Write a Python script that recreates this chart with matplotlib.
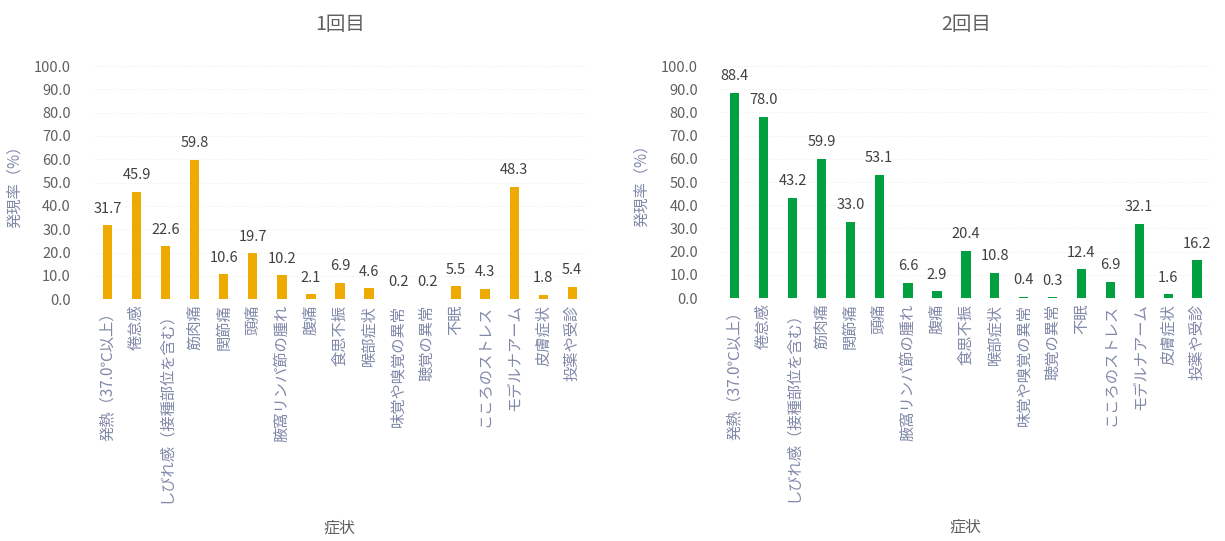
import matplotlib.pyplot as plt

plt.rcParams['font.family'] = ['Noto Sans CJK JP', 'DejaVu Sans']

# Data
symptoms = ['発熱（37.0℃以上）', '倦怠感', 'しびれ感（接種部位を含む）', '筋肉痛', '関節痛',
            '頭痛', '腋窩リンパ節の腫れ', '腹痛', '食思不振', '喉部症状', '味覚や嗅覚の異常',
            '聴覚の異常', '不眠', 'こころのストレス', 'モデルナアーム', '皮膚症状', '投薬や受診']
dose1 = [31.7, 45.9, 22.6, 59.8, 10.6, 19.7, 10.2, 2.1, 6.9, 4.6, 0.2, 0.2, 5.5, 4.3, 48.3, 1.8, 5.4]
dose2 = [88.4, 78.0, 43.2, 59.9, 33.0, 53.1, 6.6, 2.9, 20.4, 10.8, 0.4, 0.3, 12.4, 6.9, 32.1, 1.6, 16.2]
titles = ['1回目', '2回目']
yticks = [0, 10, 20, 30, 40, 50, 60, 70, 80, 90, 100]

fig = plt.figure(figsize=(12.25, 5.41), dpi=100)
ax1 = fig.add_axes([0.076, 0.447, 0.403, 0.431])
ax2 = fig.add_axes([0.588, 0.449, 0.401, 0.429])

for ax, vals, title, color in [(ax1, dose1, titles[0], '#EDAA00'),
                               (ax2, dose2, titles[1], '#00A040')]:
    x = range(len(symptoms))
    bars = ax.bar(x, vals, width=0.32, color=color, zorder=3)
    ax.bar_label(bars, fmt='%.1f', padding=7, fontsize=10.5, color='#404040')
    ax.set_xlim(-0.5, len(symptoms) - 0.5)
    ax.set_ylim(0, 100)
    ax.set_yticks(yticks)
    ax.set_yticklabels([f'{v:.1f}' for v in yticks], fontsize=10.5, color='#606060')
    ax.set_xticks(list(x))
    ax.set_xticklabels(symptoms, rotation=90, fontsize=11, color='#8088a8')
    ax.tick_params(length=0, axis='y', pad=16)
    ax.tick_params(length=0, axis='x', pad=4)
    ax.grid(axis='y', color='#eeeeee', linestyle=':', linewidth=0.8, zorder=0)
    for s in ax.spines.values():
        s.set_visible(False)
    ax.set_title(title, fontsize=14, color='#606060', pad=26)
    ax.set_ylabel('発現率（%）', fontsize=11, color='#8088a8', labelpad=8)
    ax.set_xlabel('症状', fontsize=11.5, color='#606060', labelpad=12)

fig.savefig('out.png', dpi=100, facecolor='white')
